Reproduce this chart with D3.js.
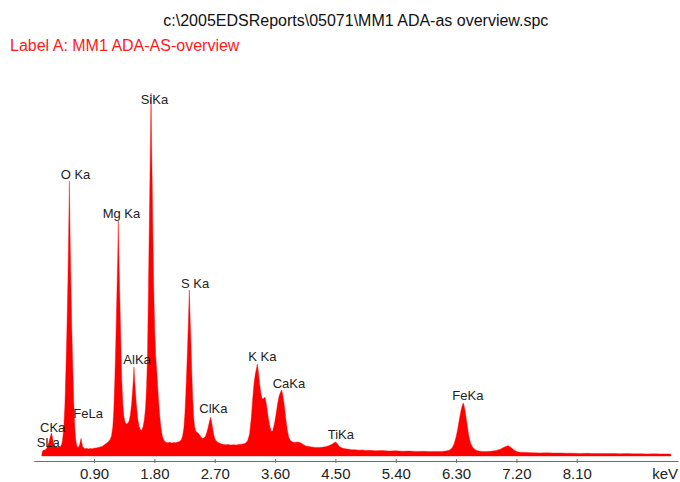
<!DOCTYPE html>
<html>
<head>
<meta charset="utf-8">
<script src="https://cdn.jsdelivr.net/npm/d3@7"></script>
<style>
  html, body { margin: 0; padding: 0; background: #fff; }
  svg { display: block; }
</style>
</head>
<body>
<svg id="chart" width="680" height="482"></svg>
<script>
// EDS spectrum: energy (keV) and counts per channel
const energy = [
  0.120, 0.128, 0.140, 0.155, 0.170, 0.185, 0.200, 0.215, 0.230, 0.245,
  0.258, 0.266, 0.275, 0.288, 0.300, 0.315, 0.330, 0.345, 0.360, 0.375,
  0.390, 0.405, 0.418, 0.428, 0.440, 0.450, 0.465, 0.480, 0.495, 0.510,
  0.522, 0.532, 0.542, 0.554, 0.569, 0.584, 0.599, 0.614, 0.625, 0.640,
  0.655, 0.670, 0.685, 0.697, 0.706, 0.716, 0.730, 0.745, 0.765, 0.790,
  0.815, 0.840, 0.870, 0.900, 0.930, 0.960, 0.990, 1.020, 1.050, 1.080,
  1.110, 1.140, 1.160, 1.180, 1.195, 1.210, 1.225, 1.240, 1.252, 1.262,
  1.272, 1.284, 1.299, 1.314, 1.329, 1.344, 1.362, 1.380, 1.400, 1.420,
  1.440, 1.460, 1.475, 1.486, 1.496, 1.506, 1.518, 1.533, 1.550, 1.570,
  1.590, 1.610, 1.630, 1.650, 1.668, 1.683, 1.697, 1.710, 1.722, 1.732,
  1.741, 1.750, 1.759, 1.768, 1.778, 1.790, 1.805, 1.820, 1.840, 1.860,
  1.880, 1.900, 1.920, 1.945, 1.970, 2.000, 2.030, 2.060, 2.090, 2.120,
  2.150, 2.175, 2.200, 2.220, 2.240, 2.255, 2.270, 2.285, 2.298, 2.310,
  2.321, 2.332, 2.344, 2.357, 2.372, 2.387, 2.400, 2.420, 2.440, 2.460,
  2.480, 2.500, 2.520, 2.540, 2.560, 2.580, 2.600, 2.620, 2.640, 2.655,
  2.670, 2.690, 2.710, 2.740, 2.780, 2.820, 2.860, 2.900, 2.940, 2.980,
  3.020, 3.060, 3.100, 3.150, 3.190, 3.220, 3.245, 3.265, 3.285, 3.305,
  3.322, 3.335, 3.350, 3.370, 3.390, 3.410, 3.430, 3.450, 3.470, 3.495,
  3.520, 3.545, 3.565, 3.590, 3.615, 3.640, 3.660, 3.680, 3.699, 3.715,
  3.735, 3.755, 3.780, 3.805, 3.830, 3.860, 3.900, 3.940, 3.980, 4.020,
  4.060, 4.100, 4.150, 4.200, 4.250, 4.300, 4.350, 4.400, 4.450, 4.480,
  4.505, 4.530, 4.560, 4.600, 4.650, 4.700, 4.750, 4.800, 4.850, 4.900,
  4.950, 5.000, 5.100, 5.200, 5.300, 5.400, 5.500, 5.600, 5.700, 5.800,
  5.900, 6.000, 6.080, 6.150, 6.200, 6.240, 6.270, 6.300, 6.330, 6.355,
  6.375, 6.392, 6.408, 6.424, 6.442, 6.465, 6.490, 6.515, 6.545, 6.580,
  6.620, 6.680, 6.750, 6.820, 6.900, 6.960, 7.000, 7.040, 7.079, 7.120,
  7.160, 7.200, 7.250, 7.350, 7.450, 7.550, 7.650, 7.750, 7.850, 7.950,
  8.050, 8.150, 8.250, 8.350, 8.450, 8.550, 8.650, 8.750, 8.850, 8.950,
  9.050, 9.150, 9.250, 9.350, 9.450, 9.500, 9.505
];

const counts = [
     0,   45,   55,   62,   58,   70,   85,  110,  145,  185,
   215,  230,  200,  150,  120,  100,   90,   95,   85,   92,
    88,  100,  120,  150,  220,  300,  500,  850, 1250, 1750,
  2250, 2750, 2250, 1750, 1250,  850,  500,  280,  170,  110,
    85,   90,  110,  150,  175,  140,   95,   80,   72,   78,
    70,   76,   72,   78,   80,   86,   90,   96,  110,  125,
   140,  165,  200,  290,  460,  760, 1150, 1600, 1950, 2350,
  1950, 1600, 1150,  750,  520,  400,  340,  320,  325,  345,
   400,  520,  650,  760,  890,  760,  640,  500,  380,  300,
   265,  255,  290,  360,  480,  680, 1000, 1600, 2200, 2700,
  3100, 3630, 3100, 2700, 2200, 1700, 1250, 1000,  800,  580,
   400,  270,  195,  155,  138,  132,  138,  130,  135,  132,
   140,  145,  160,  195,  280,  420,  640,  900, 1150, 1400,
  1660, 1400, 1150,  850,  560,  380,  290,  245,  235,  225,
   205,  185,  175,  182,  195,  230,  280,  340,  390,  335,
   270,  200,  160,  140,  125,  118,  112,  115,  110,  113,
   110,  116,  118,  125,  150,  220,  380,  560,  720,  820,
   870,  920,  850,  720,  620,  570,  575,  590,  520,  400,
   300,  245,  250,  320,  420,  530,  600,  635,  660,  610,
   520,  400,  270,  185,  155,  140,  135,  140,  133,  115,
   100,   95,   90,   86,   84,   88,   92,  102,  118,  132,
   140,  122,   96,   80,   72,   68,   63,   62,   58,   60,
    56,   57,   53,   54,   50,   52,   48,   49,   46,   47,
    44,   45,   46,   50,   58,   80,  120,  190,  290,  390,
   460,  505,  530,  490,  420,  310,  200,  130,   90,   66,
    52,   46,   44,   47,   56,   68,   82,   96,  103,   86,
    62,   46,   38,   34,   33,   31,   32,   29,   30,   28,
    28,   26,   27,   25,   26,   24,   25,   23,   24,   22,
    23,   21,   22,   20,   21,   20,    0
];

// Peak identifications: text, energy where the text starts, counts at its baseline
const peakNames   = ["SLa", "CKa", "O Ka", "FeLa", "Mg Ka", "AlKa", "SiKa", "S Ka", "ClKa", "K Ka", "CaKa", "TiKa", "FeKa"];
const peakTextKeV = [0.045, 0.094, 0.403, 0.591, 1.029, 1.337, 1.596, 2.197, 2.470, 3.201, 3.565, 4.385, 6.244];
const peakTextCts = [90, 240, 2770, 380, 2380, 920, 3520, 1680, 430, 950, 680, 170, 560];

const tickValues = [0.90, 1.80, 2.70, 3.60, 4.50, 5.40, 6.30, 7.20, 8.10];
const axisUnit = "keV";
const fileTitle = "c:\\2005EDSReports\\05071\\MM1 ADA-as overview.spc";
const spectrumLabel = "Label A: MM1 ADA-AS-overview";

const FONT = "'Liberation Sans', Arial, Helvetica, sans-serif";
const svg = d3.select("#chart");

const x = d3.scaleLinear().domain([0, 9.61]).range([33.7, 678]);
const y = d3.scaleLinear().domain([0, 4000]).range([456, 56]);
const axisY = 461;

const spectrum = energy.map((e, i) => ({ e, c: counts[i] }));

// filled spectrum
svg.append("path")
  .datum(spectrum)
  .attr("fill", "#ff0000")
  .attr("stroke", "#ff0000")
  .attr("stroke-width", 0.4)
  .attr("d", d3.area()
    .x(d => x(d.e))
    .y0(y(0))
    .y1(d => y(d.c)));

// energy axis
const axis = svg.append("g")
  .attr("transform", `translate(0,${axisY})`)
  .call(d3.axisBottom(x)
    .tickValues(tickValues)
    .tickFormat(d3.format(".2f"))
    .tickSizeInner(2)
    .tickSizeOuter(0));

axis.select(".domain").attr("stroke", "#6e6e6e").attr("stroke-width", 1.2);
axis.selectAll(".tick line").attr("stroke", "#6e6e6e").attr("y1", -2).attr("y2", 2);
axis.selectAll(".tick text")
  .attr("y", 18)
  .attr("dy", null)
  .attr("fill", "#222")
  .style("font-family", FONT)
  .style("font-size", "15px");

svg.append("text")
  .attr("x", 678)
  .attr("y", axisY + 18)
  .attr("text-anchor", "end")
  .attr("fill", "#222")
  .style("font-family", FONT)
  .style("font-size", "15px")
  .text(axisUnit);

// peak labels
svg.append("g")
  .selectAll("text")
  .data(peakNames)
  .join("text")
  .attr("x", (d, i) => x(peakTextKeV[i]))
  .attr("y", (d, i) => y(peakTextCts[i]))
  .attr("fill", "#222")
  .style("font-family", FONT)
  .style("font-size", "13px")
  .text(d => d);

// header texts
svg.append("text")
  .attr("x", (x.range()[0] + x.range()[1]) / 2)
  .attr("y", 26)
  .attr("text-anchor", "middle")
  .attr("fill", "#111")
  .style("font-family", FONT)
  .style("font-size", "16px")
  .text(fileTitle);

svg.append("text")
  .attr("x", 10)
  .attr("y", 51)
  .attr("fill", "#ff1a1a")
  .style("font-family", FONT)
  .style("font-size", "16px")
  .text(spectrumLabel);
</script>
</body>
</html>
